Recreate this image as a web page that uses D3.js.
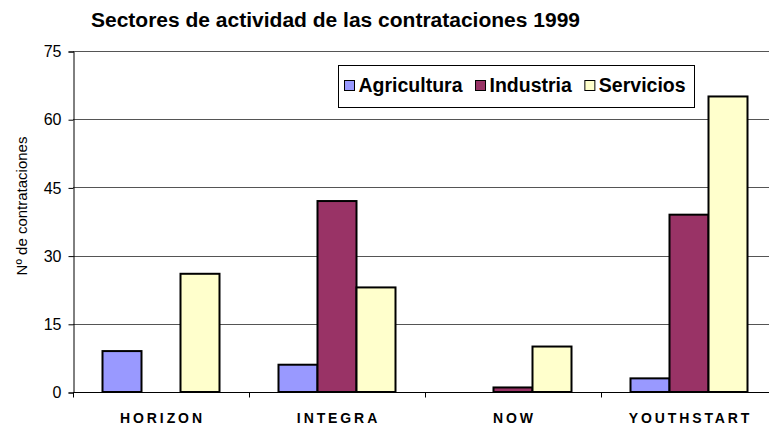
<!DOCTYPE html>
<html>
<head>
<meta charset="utf-8">
<script src="https://cdn.jsdelivr.net/npm/d3@7"></script>
<style>
  body { margin: 0; background: #fff; }
  svg { display: block; font-family: "Liberation Sans", Arial, sans-serif; }
</style>
</head>
<body>
<div id="chart"></div>
<script>
// data
var categories = ['HORIZON', 'INTEGRA', 'NOW', 'YOUTHSTART'];
var seriesNames = ['Agricultura', 'Industria', 'Servicios'];
var agricultura = [9, 6, 0, 3];
var industria = [0, 42, 1, 39];
var servicios = [26, 23, 10, 65];
var yTicks = [0, 15, 30, 45, 60, 75];

var seriesValues = [agricultura, industria, servicios];
var colors = ['#9999ff', '#993366', '#ffffcc'];

var width = 769, height = 425;
var plotLeft = 73, plotRight = 777, plotTop = 51, plotBottom = 392;

var svg = d3.select('#chart').append('svg')
  .attr('width', width)
  .attr('height', height);

var x = d3.scaleBand()
  .domain(categories)
  .range([plotLeft, plotRight]);

var gap = 29.5;
var xs = d3.scaleBand()
  .domain(seriesNames)
  .range([gap, x.bandwidth() - gap]);

var y = d3.scaleLinear()
  .domain([0, 75])
  .range([plotBottom, plotTop]);

// gridlines
svg.append('g')
  .selectAll('line')
  .data(yTicks.filter(function(d) { return d > 0; }))
  .enter()
  .append('line')
  .attr('x1', plotLeft)
  .attr('x2', plotRight)
  .attr('y1', function(d) { return Math.round(y(d)) + 0.5; })
  .attr('y2', function(d) { return Math.round(y(d)) + 0.5; })
  .attr('stroke', '#555')
  .attr('stroke-width', 1);

// bars
var groups = svg.append('g')
  .selectAll('g')
  .data(categories)
  .enter()
  .append('g')
  .attr('transform', function(d) { return 'translate(' + x(d) + ',0)'; });

groups.selectAll('rect')
  .data(function(d, i) {
    return seriesNames.map(function(s, j) {
      return { series: s, value: seriesValues[j][i], color: colors[j] };
    });
  })
  .enter()
  .filter(function(d) { return d.value > 0; })
  .append('rect')
  .attr('x', function(d) { return xs(d.series); })
  .attr('y', function(d) { return y(d.value); })
  .attr('width', xs.bandwidth())
  .attr('height', function(d) { return plotBottom - y(d.value); })
  .attr('fill', function(d) { return d.color; })
  .attr('stroke', '#000')
  .attr('stroke-width', 2);

// y axis
var yAxis = svg.append('g')
  .attr('transform', 'translate(' + (plotLeft + 0.5) + ',0.5)')
  .call(d3.axisLeft(y).tickValues(yTicks).tickSize(5).tickPadding(7));
yAxis.select('.domain').attr('stroke', '#000');
yAxis.selectAll('text')
  .attr('font-size', 16)
  .attr('font-family', '"Liberation Sans", Arial, sans-serif')
  .attr('fill', '#000');

// x axis
var xAxis = svg.append('g')
  .attr('transform', 'translate(0,' + (plotBottom + 0.5) + ')');
xAxis.append('line')
  .attr('x1', plotLeft)
  .attr('x2', plotRight)
  .attr('stroke', '#000');
xAxis.selectAll('.tk')
  .data(categories)
  .enter()
  .append('line')
  .attr('class', 'tk')
  .attr('x1', function(d) { return Math.round(x(d)) + 0.5; })
  .attr('x2', function(d) { return Math.round(x(d)) + 0.5; })
  .attr('y1', 0)
  .attr('y2', 5)
  .attr('stroke', '#000');
xAxis.selectAll('text')
  .data(categories)
  .enter()
  .append('text')
  .attr('x', function(d) { return x(d) + x.bandwidth() / 2 + 1.5; })
  .attr('y', 30)
  .attr('text-anchor', 'middle')
  .attr('font-size', 14)
  .attr('font-weight', 'bold')
  .attr('letter-spacing', 2.9)
  .text(function(d) { return d; });

// y axis title
svg.append('text')
  .attr('transform', 'translate(27,206) rotate(-90)')
  .attr('text-anchor', 'middle')
  .attr('font-size', 15)
  .text('Nº de contrataciones');

// title
svg.append('text')
  .attr('x', 91)
  .attr('y', 27)
  .attr('font-size', 20)
  .attr('font-weight', 'bold')
  .attr('textLength', 489)
  .attr('lengthAdjust', 'spacingAndGlyphs')
  .text('Sectores de actividad de las contrataciones 1999');

// legend
var legend = svg.append('g').attr('transform', 'translate(338.5,65.5)');
legend.append('rect')
  .attr('width', 356)
  .attr('height', 42)
  .attr('fill', '#fff')
  .attr('stroke', '#000');

var items = legend.selectAll('.item')
  .data(seriesNames)
  .enter()
  .append('g')
  .attr('class', 'item');
items.append('rect')
  .attr('x', 0)
  .attr('y', 15)
  .attr('width', 10)
  .attr('height', 10)
  .attr('fill', function(d, i) { return colors[i]; })
  .attr('stroke', '#000');
items.append('text')
  .attr('x', 14)
  .attr('y', 26)
  .attr('font-size', 19.5)
  .attr('font-weight', 'bold')
  .text(function(d) { return d; });

// lay the legend items out one after another
var lx = 6;
items.each(function() {
  var g = d3.select(this);
  g.attr('transform', 'translate(' + lx + ',0)');
  lx += 14 + g.select('text').node().getComputedTextLength() + 13;
});
</script>
</body>
</html>
